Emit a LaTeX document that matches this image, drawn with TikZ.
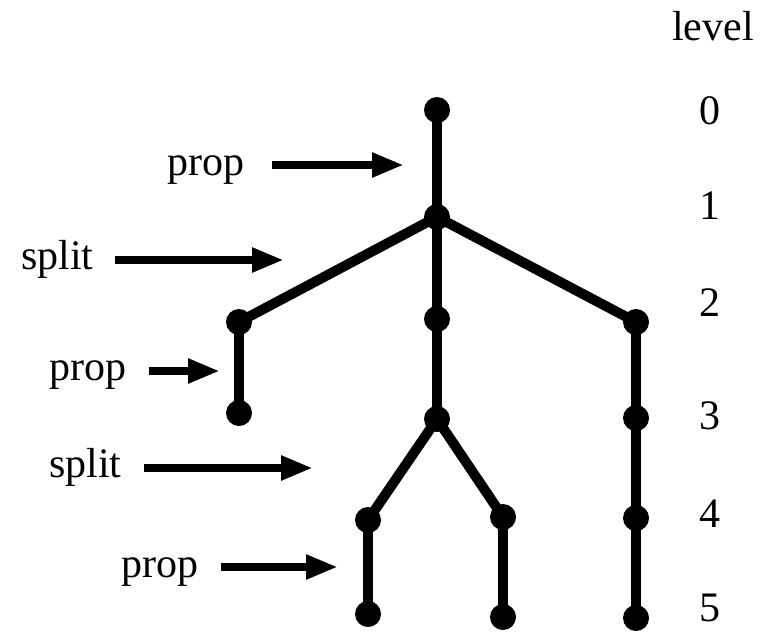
\documentclass[tikz,border=0pt]{standalone}
\usepackage{fontspec}
\setmainfont{Liberation Serif}
\usetikzlibrary{arrows.meta}
\begin{document}
\begin{tikzpicture}[x=1pt,y=-1pt,
  dot/.style={circle,fill=black,inner sep=0pt,minimum size=26pt},
  edge/.style={line width=10pt},
  lbl/.style={inner sep=0pt,anchor=base west,font=\fontsize{42}{50}\selectfont},
  lvl/.style={inner sep=0pt,anchor=base,font=\fontsize{42}{50}\selectfont},
  pointer/.style={line width=8.5pt,-{Triangle[length=32pt,width=23pt]}}]
\useasboundingbox (0,0) rectangle (762,632);
% tree nodes
\node[dot] (r)  at (437,110) {};
\node[dot] (n1) at (437,217) {};
\node[dot] (a2) at (239,322) {};
\node[dot] (b2) at (437,319) {};
\node[dot] (c2) at (636,322) {};
\node[dot] (a3) at (239,413) {};
\node[dot] (b3) at (437,419) {};
\node[dot] (c3) at (636,418) {};
\node[dot] (d4) at (368,520) {};
\node[dot] (e4) at (503,517) {};
\node[dot] (c4) at (636,518) {};
\node[dot] (d5) at (368,614) {};
\node[dot] (e5) at (503,617) {};
\node[dot] (c5) at (636,618) {};
% tree edges
\draw[edge] (r.center) -- (n1.center);
\draw[edge] (n1.center) -- (a2.center);
\draw[edge] (n1.center) -- (b2.center);
\draw[edge] (n1.center) -- (c2.center);
\draw[edge] (a2.center) -- (a3.center);
\draw[edge] (b2.center) -- (b3.center);
\draw[edge] (c2.center) -- (c3.center);
\draw[edge] (b3.center) -- (d4.center);
\draw[edge] (b3.center) -- (e4.center);
\draw[edge] (c3.center) -- (c4.center);
\draw[edge] (d4.center) -- (d5.center);
\draw[edge] (e4.center) -- (e5.center);
\draw[edge] (c4.center) -- (c5.center);
% level labels
\node[lvl] (lv) at (713,40) {level};
\node[lvl] (l0) at (710,124) {0};
\node[lvl] (l1) at (710,219) {1};
\node[lvl] (l2) at (710,316) {2};
\node[lvl] (l3) at (710,429) {3};
\node[lvl] (l4) at (710,527) {4};
\node[lvl] (l5) at (710,621) {5};
% left labels
\node[lbl] (p1) at (167,175) {prop};
\node[lbl] (s1) at (21,269) {split};
\node[lbl] (p2) at (49,380) {prop};
\node[lbl] (s2) at (49,477) {split};
\node[lbl] (p3) at (121,577) {prop};
% arrow ends
\coordinate (p1s) at (272,165); \coordinate (p1t) at (404,165);
\coordinate (s1s) at (115,260); \coordinate (s1t) at (284,260);
\coordinate (p2s) at (149,371); \coordinate (p2t) at (220,371);
\coordinate (s2s) at (144,468); \coordinate (s2t) at (313,468);
\coordinate (p3s) at (221,567); \coordinate (p3t) at (338,567);
\draw[pointer] (p1s) -- (p1t);
\draw[pointer] (s1s) -- (s1t);
\draw[pointer] (p2s) -- (p2t);
\draw[pointer] (s2s) -- (s2t);
\draw[pointer] (p3s) -- (p3t);
\end{tikzpicture}
\end{document}
